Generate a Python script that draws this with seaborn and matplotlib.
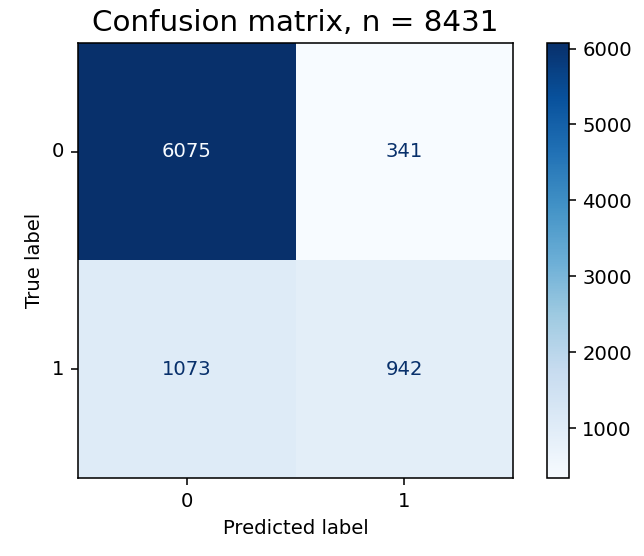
import numpy as np
import matplotlib
matplotlib.use("Agg")
import matplotlib.pyplot as plt
import seaborn as sns

# confusion matrix counts (rows = true, cols = predicted)
class_labels = ["0", "1"]
row_0 = [6075, 341]
row_1 = [1073, 942]
n_total = 8431

cm = np.array([row_0, row_1])

DPI = 141
fig = plt.figure(figsize=(644 / DPI, 556 / DPI), dpi=DPI)
ax = fig.add_axes([0.121, 0.140, 0.676, 0.783])
cax = fig.add_axes([0.849, 0.140, 0.034, 0.783])

cmap = plt.get_cmap("Blues")
sns.heatmap(cm, ax=ax, cbar_ax=cax, cmap=cmap, annot=False,
            xticklabels=class_labels, yticklabels=class_labels)

# text colour like sklearn: light on dark cells, dark on light cells
thresh = (cm.max() + cm.min()) / 2.0
for i in range(cm.shape[0]):
    for j in range(cm.shape[1]):
        color = cmap(0.0) if cm[i, j] >= thresh else cmap(1.0)
        ax.text(j + 0.5, i + 0.5, str(cm[i, j]), ha="center", va="center",
                color=color, fontsize=10)

# restore frame lost by seaborn
for sp in ax.spines.values():
    sp.set_visible(True)
    sp.set_linewidth(0.8)
cbar = ax.collections[0].colorbar
cbar.outline.set_linewidth(0.8)
cbar.outline.set_edgecolor("black")

ax.tick_params(axis="both", length=3.5, width=0.8, labelsize=10)
cax.tick_params(length=3.5, width=0.8, labelsize=10)
ax.set_yticklabels(class_labels, rotation=0)
ax.set_xticklabels(class_labels, rotation=0)
ax.set_xlabel("Predicted label", fontsize=10)
ax.set_ylabel("True label", fontsize=10)
ax.set_title(f"Confusion matrix, n = {n_total}", fontsize=15)

fig.savefig("out.png", dpi=DPI)
